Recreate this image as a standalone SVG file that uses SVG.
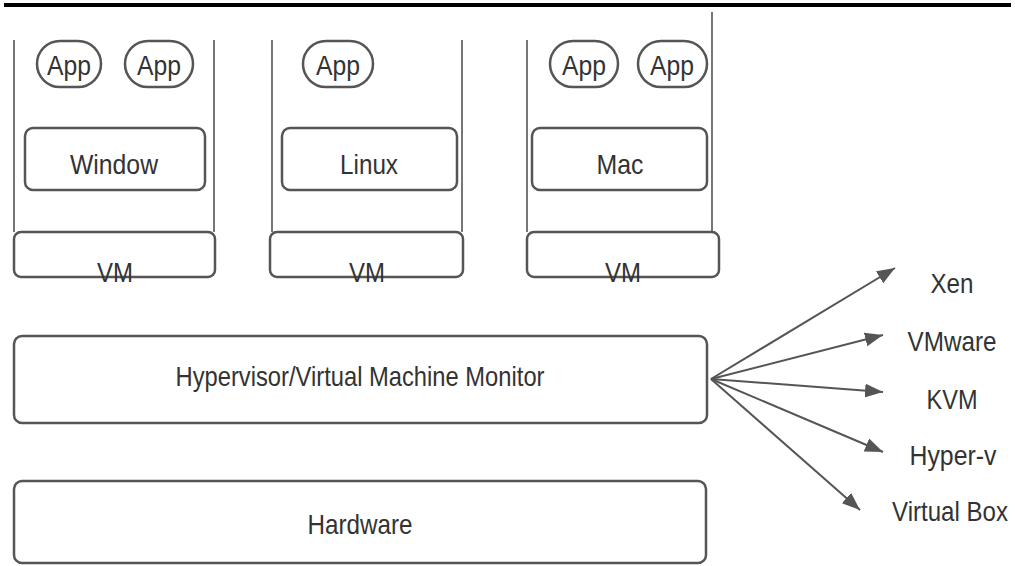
<svg xmlns="http://www.w3.org/2000/svg" width="1015" height="566" viewBox="0 0 1015 566">
<defs>
<style>
.box{fill:none;stroke:#555;stroke-width:2.5}
.col{fill:none;stroke:#555;stroke-width:1.6}
.t{font-family:"Liberation Sans",Arial,sans-serif;font-size:28px;fill:#333;text-anchor:middle}
.arr{stroke:#555;stroke-width:2;fill:none;marker-end:url(#ah)}
</style>
<marker id="ah" markerUnits="userSpaceOnUse" markerWidth="20" markerHeight="16" refX="18" refY="7" orient="auto">
<path d="M0,0 L18,7 L0,14 z" fill="#555"/>
</marker>
</defs>
<rect width="1015" height="566" fill="#fff"/>
<line x1="4" y1="5" x2="1011" y2="5" stroke="#000" stroke-width="4"/>

<g id="vm1">
<path class="col" d="M14,40 V232 M214,40 V232"/>
<rect class="box" x="37" y="41" width="64" height="46" rx="23"/>
<text class="t" x="69" y="75" textLength="44" lengthAdjust="spacingAndGlyphs">App</text>
<rect class="box" x="125" y="41" width="68" height="46" rx="23"/>
<text class="t" x="159" y="75" textLength="44" lengthAdjust="spacingAndGlyphs">App</text>
<rect class="box" x="25" y="128" width="180" height="62" rx="8"/>
<text class="t" x="114" y="174" textLength="88" lengthAdjust="spacingAndGlyphs">Window</text>
<rect class="box" x="14" y="232" width="201" height="45" rx="7"/>
<text class="t" x="115" y="282" textLength="36" lengthAdjust="spacingAndGlyphs">VM</text>
</g>

<g id="vm2">
<path class="col" d="M272,40 V232 M462,40 V232"/>
<rect class="box" x="303" y="41" width="70" height="46" rx="23"/>
<text class="t" x="338" y="75" textLength="44" lengthAdjust="spacingAndGlyphs">App</text>
<rect class="box" x="282" y="128" width="175" height="62" rx="8"/>
<text class="t" x="369" y="174" textLength="58" lengthAdjust="spacingAndGlyphs">Linux</text>
<rect class="box" x="270" y="232" width="193" height="45" rx="7"/>
<text class="t" x="367" y="282" textLength="36" lengthAdjust="spacingAndGlyphs">VM</text>
</g>

<g id="vm3">
<path class="col" d="M527,40 V232 M712,12 V232"/>
<rect class="box" x="550" y="41" width="68" height="46" rx="23"/>
<text class="t" x="584" y="75" textLength="44" lengthAdjust="spacingAndGlyphs">App</text>
<rect class="box" x="638" y="41" width="69" height="46" rx="23"/>
<text class="t" x="672" y="75" textLength="44" lengthAdjust="spacingAndGlyphs">App</text>
<rect class="box" x="532" y="128" width="175" height="62" rx="8"/>
<text class="t" x="620" y="174" textLength="47" lengthAdjust="spacingAndGlyphs">Mac</text>
<rect class="box" x="527" y="232" width="192" height="45" rx="7"/>
<text class="t" x="623" y="282" textLength="36" lengthAdjust="spacingAndGlyphs">VM</text>
</g>

<g id="hypervisor">
<rect class="box" x="14" y="336" width="693" height="87" rx="8"/>
<text class="t" x="360" y="386" textLength="369" lengthAdjust="spacingAndGlyphs">Hypervisor/Virtual Machine Monitor</text>
</g>

<g id="hardware">
<rect class="box" x="14" y="481" width="692" height="82" rx="8"/>
<text class="t" x="360" y="534" textLength="105" lengthAdjust="spacingAndGlyphs">Hardware</text>
</g>

<g id="connectors">
<line class="arr" x1="711" y1="379" x2="895" y2="268"/>
<line class="arr" x1="711" y1="379" x2="883" y2="335"/>
<line class="arr" x1="711" y1="379" x2="883" y2="392"/>
<line class="arr" x1="711" y1="379" x2="883" y2="452"/>
<line class="arr" x1="711" y1="379" x2="860" y2="510"/>
</g>

<g id="xen"><text class="t" x="952" y="293" textLength="43" lengthAdjust="spacingAndGlyphs">Xen</text></g>
<g id="vmware"><text class="t" x="952" y="351" textLength="89" lengthAdjust="spacingAndGlyphs">VMware</text></g>
<g id="kvm"><text class="t" x="952" y="409" textLength="51" lengthAdjust="spacingAndGlyphs">KVM</text></g>
<g id="hyperv"><text class="t" x="953" y="465" textLength="87" lengthAdjust="spacingAndGlyphs">Hyper-v</text></g>
<g id="virtualbox"><text class="t" style="font-size:24px" transform="translate(950 521) scale(1 1.17)" x="0" y="0" textLength="116" lengthAdjust="spacingAndGlyphs">Virtual Box</text></g>
</svg>
